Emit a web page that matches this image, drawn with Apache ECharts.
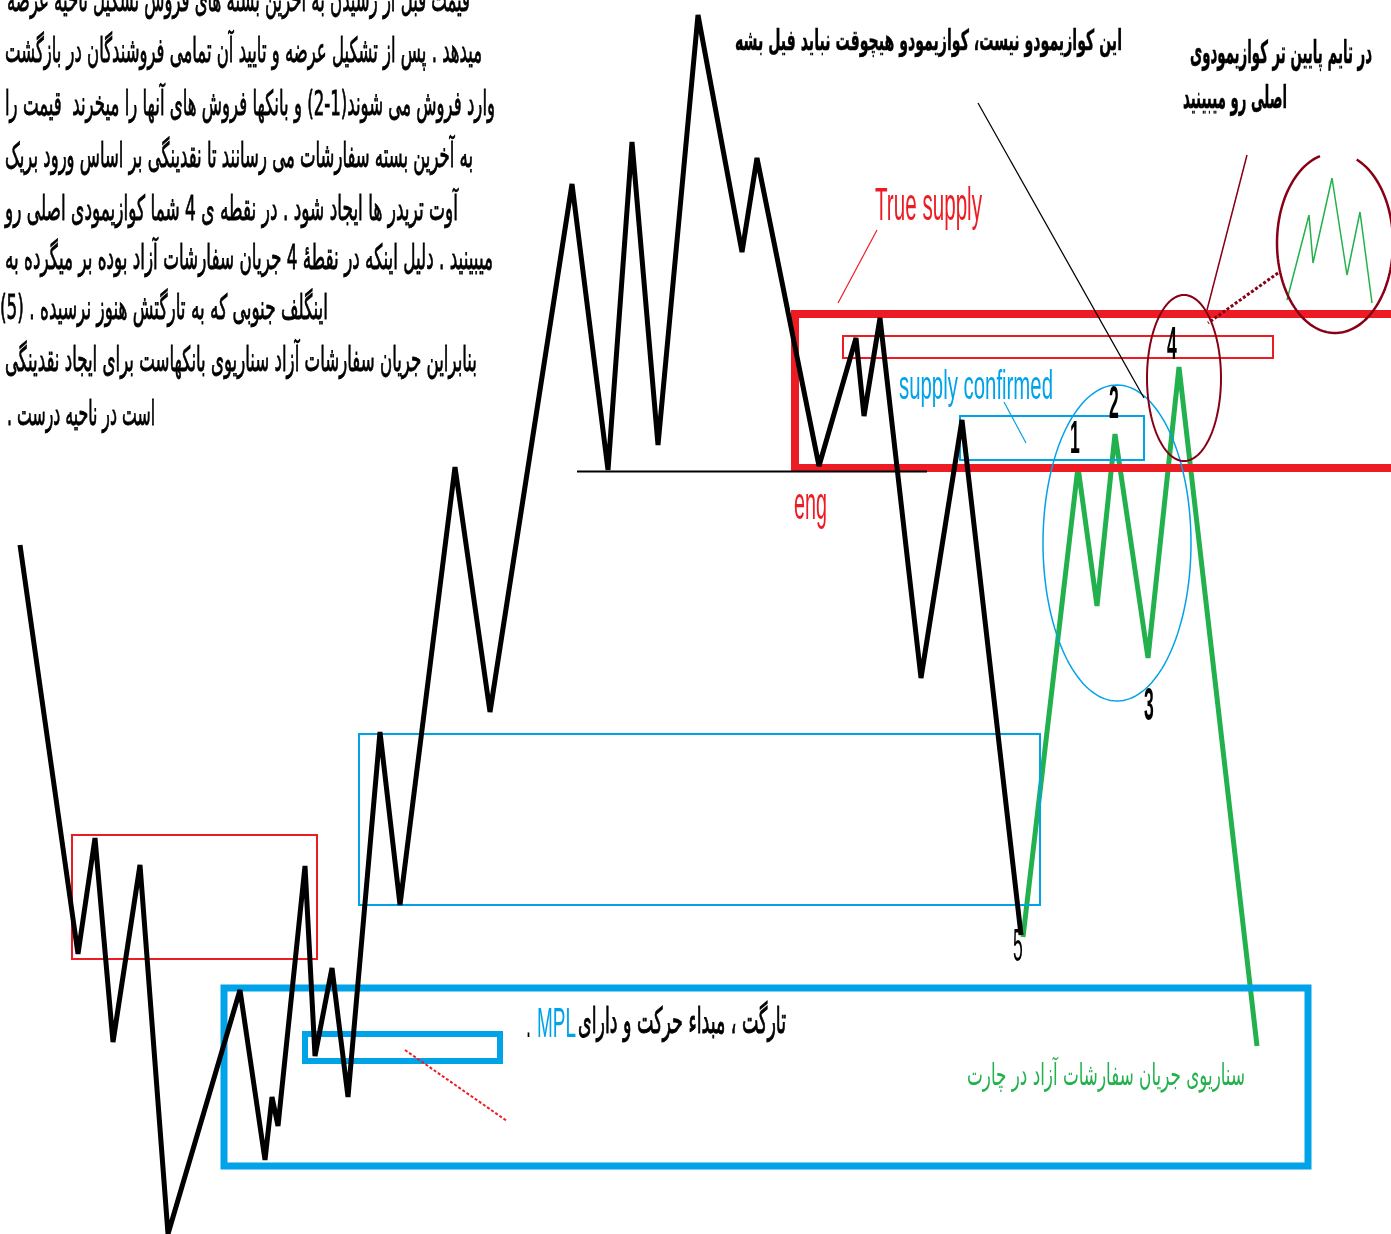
<!DOCTYPE html>
<html><head><meta charset="utf-8">
<script src="https://cdn.jsdelivr.net/npm/echarts@6/dist/echarts.min.js"></script>
<style>html,body{margin:0;padding:0;background:#fff}#c{width:1391px;height:1234px}</style>
</head><body><div id="c"></div><script>
// ---------- DATA (x = time units, y = price units, top = 0) ----------
const priceX = [20,78,95,113,140,168,240,265,272,278,305,315,332,348,380,400,455,490,572,608,632,658,698,742,757,819,856,864,880,921,962,1021];
const priceY = [545,954,838,1042,865,1234,990,1160,1097,1126,866,1056,968,1097,732,905,467,712,184,470,142,445,15,252,158,466,338,416,318,678,420,935];

const scenarioX = [1023,1078,1097,1115,1148,1179,1257];
const scenarioY = [937,467,606,434,658,367,1046];

const ltfX = [1287,1309,1313,1332,1347,1360,1372];
const ltfY = [300,215,263,178,275,212,303];

const zoneNames = ['leftSupply','midDemand','target','mpl','trueSupply','innerSupply','confirmed'];
const zoneX1 = [72,359,224,305,795,843,960];
const zoneX2 = [317,1040,1308,500,1410,1273,1144];
const zoneY1 = [835,734,988,1034,314,336,416];
const zoneY2 = [959,905,1166,1061,468,358,460];

const ringCx = [1117,1184,1335];
const ringCy = [543,378,243];
const ringRx = [74,37,58];
const ringRy = [158,83,90];

const segX1 = [577,978,877,1004,405,1247,1278];
const segY1 = [471.5,103,230,402,1050,155,273];
const segX2 = [927,1144,838,1026,507,1207,1208];
const segY2 = [471.5,398,303,443,1121,310,323];

const pointLabels = ['1','2','3','4','5'];
const pointLabelX = [1075,1114,1149,1172,1018];
const pointLabelY = [440,405,707,346,948];

const noteLines = [
  'قیمت قبل از رسیدن به آخرین بسته های فروش تشکیل ناحیه عرضه',
  'میدهد . پس از تشکیل عرضه و تایید آن تمامی فروشندگان در بازگشت',
  'وارد فروش می شوند(1-2) و بانکها فروش های آنها را میخرند  قیمت را',
  'به آخرین بسته سفارشات می رسانند تا نقدینگی بر اساس ورود بریک',
  'آوت تریدر ها ایجاد شود . در نقطه ی 4 شما کوازیمودی اصلی رو',
  'میبینید . دلیل اینکه در نقطهٔ 4 جریان سفارشات آزاد بوده بر میگرده به',
  'اینگلف جنوبی که به تارگتش هنوز نرسیده . (5)',
  'بنابراین جریان سفارشات آزاد سناریوی بانکهاست برای ایجاد نقدینگی',
  'است در ناحیه درست .'
];
const titleMain = 'این کوازیمودو نیست، کوازیمودو هیچوقت نباید فیل بشه';
const titleRight = ['در تایم پایین تر کوازیمودوی','اصلی رو میبینید'];
const targetText = 'تارگت ، مبداء حرکت و دارای';
const mplText = 'MPL';
const scenarioText = 'سناریوی جریان سفارشات آزاد در چارت';
const trueSupplyText = 'True supply';
const engText = 'eng';
const confirmedText = 'supply confirmed';

// ---------- STYLES / LAYOUT ----------
const RED='#ed1c24', BLUE='#00a2e8', GREEN='#22b14c', DRED='#880015', BLACK='#000';
const zoneStyle = {
  leftSupply:{color:RED,width:2}, midDemand:{color:BLUE,width:2}, target:{color:BLUE,width:7},
  mpl:{color:BLUE,width:6}, trueSupply:{color:RED,width:8}, innerSupply:{color:RED,width:2},
  confirmed:{color:BLUE,width:2}
};
const segStyle = [
  {color:BLACK,width:2},{color:BLACK,width:1.3},{color:RED,width:1.2},{color:BLUE,width:1.2},
  {color:RED,width:2,dash:[3,2]},{color:DRED,width:1.5},{color:DRED,width:3,dash:[3,2]}
];
const ringStyle = [{color:BLUE,width:1.5},{color:DRED,width:2},{color:DRED,width:2.5,gap:[-105,-68]}];

const rtl = s => '\u202B' + s + '\u202C';
const FA = '"DejaVu Sans"', LA = '"Liberation Sans"';
const noteRange = [[7,470],[5,482],[5,495],[5,473],[5,458],[5,493],[0,328],[5,477],[7,155]];
const noteMid = [2,53,106,158,211,260,310,362,416];
const texts = [];
noteLines.forEach((s,i)=>texts.push({text:rtl(s),x1:noteRange[i][0],x2:noteRange[i][1],y:noteMid[i],size:18,sy:1.9,family:FA,color:BLACK,sw:0.45}));
texts.push({text:rtl(titleMain),x1:735,x2:1122,y:43,size:18,sy:1.6,family:FA,weight:'bold',color:BLACK,sw:0.3});
texts.push({text:rtl(titleRight[0]),x1:1190,x2:1372,y:55,size:18,sy:1.75,family:FA,weight:'bold',color:BLACK,sw:0.3});
texts.push({text:rtl(titleRight[1]),x1:1183,x2:1287,y:100,size:18,sy:1.75,family:FA,weight:'bold',color:BLACK,sw:0.3});
texts.push({text:rtl(scenarioText),x1:967,x2:1245,y:1077,size:18,sy:1.7,family:FA,color:GREEN});
texts.push({text:rtl(targetText),x1:578,x2:786,y:1024,size:18,sy:2.0,family:FA,color:BLACK,sw:0.5});
texts.push({text:mplText,x1:537,x2:576,y:1025,size:20,sy:2.1,family:LA,color:BLUE});
texts.push({text:'.',x1:526,x2:531,y:1025,size:20,sy:2.1,family:LA,color:BLACK});
texts.push({text:trueSupplyText,x1:875,x2:982,y:207,size:22,sy:2.09,family:LA,color:RED});
texts.push({text:engText,x1:794,x2:827,y:506,size:22,sy:2.09,family:LA,color:RED});
texts.push({text:confirmedText,x1:899,x2:1053,y:388,size:20,sy:2.0,family:LA,color:BLUE});
pointLabels.forEach((s,i)=>texts.push({text:s,cx:pointLabelX[i],y:pointLabelY[i],size:22,sy:2.1,sx:0.8,family:LA,weight:i<4?'bold':'normal',color:BLACK}));

const mctx = document.createElement('canvas').getContext('2d');
function measure(t,font){ mctx.font = font; return mctx.measureText(t).width; }

const chart = echarts.init(document.getElementById('c'));
chart.setOption({
  animation:false,
  backgroundColor:'#fff',
  grid:{left:0,right:0,top:0,bottom:0},
  xAxis:{type:'value',min:0,max:1391,show:false},
  yAxis:{type:'value',min:0,max:1234,inverse:true,show:false},
  series:[
    {type:'line',name:'scenario',z:2,symbol:'none',clip:false,
     data:scenarioX.map((x,i)=>[x,scenarioY[i]]),
     lineStyle:{color:GREEN,width:5}},
    {type:'line',name:'ltf',z:2,symbol:'none',clip:false,
     data:ltfX.map((x,i)=>[x,ltfY[i]]),
     lineStyle:{color:GREEN,width:1.5}},
    {type:'custom',name:'zones',z:3,clip:false,
     data:zoneNames.map((n,i)=>[zoneX1[i],zoneY1[i],zoneX2[i],zoneY2[i]]),
     renderItem:(params,api)=>{
       const i=params.dataIndex, st=zoneStyle[zoneNames[i]];
       const p1=api.coord([api.value(0),api.value(1)]), p2=api.coord([api.value(2),api.value(3)]);
       return {type:'rect',shape:{x:p1[0],y:p1[1],width:p2[0]-p1[0],height:p2[1]-p1[1]},
               style:{fill:'none',stroke:st.color,lineWidth:st.width}};
     }},
    {type:'custom',name:'rings',z:3,clip:false,
     data:ringCx.map((c,i)=>[c,ringCy[i],ringRx[i],ringRy[i]]),
     renderItem:(params,api)=>{
       const i=params.dataIndex, st=ringStyle[i];
       const cx=api.value(0), cy=api.value(1), rx=api.value(2), ry=api.value(3);
       const a0 = st.gap ? st.gap[1] : 0, a1 = st.gap ? st.gap[0]+360 : 360;
       const pts=[];
       for(let k=0;k<=144;k++){ const a=(a0+(a1-a0)*k/144)*Math.PI/180; pts.push(api.coord([cx+rx*Math.cos(a), cy+ry*Math.sin(a)])); }
       return {type:'polyline',shape:{points:pts},style:{fill:'none',stroke:st.color,lineWidth:st.width}};
     }},
    {type:'custom',name:'pointers',z:4,clip:false,
     data:segX1.map((x,i)=>[x,segY1[i],segX2[i],segY2[i]]),
     renderItem:(params,api)=>{
       const st=segStyle[params.dataIndex];
       const p1=api.coord([api.value(0),api.value(1)]), p2=api.coord([api.value(2),api.value(3)]);
       return {type:'line',shape:{x1:p1[0],y1:p1[1],x2:p2[0],y2:p2[1]},
               style:{stroke:st.color,lineWidth:st.width,lineDash:st.dash||null}};
     }},
    {type:'line',name:'price',z:5,symbol:'none',clip:false,
     data:priceX.map((x,i)=>[x,priceY[i]]),
     lineStyle:{color:BLACK,width:5}},
    {type:'custom',name:'texts',z:6,clip:false,
     data:texts.map((t,i)=>[t.x1!=null?t.x1:t.cx,t.y]),
     renderItem:(params,api)=>{
       const t=texts[params.dataIndex];
       const font=(t.weight||'normal')+' '+t.size+'px '+t.family;
       let p, sx, align;
       if(t.cx!=null){ p=api.coord([t.cx,t.y]); sx=t.sx; align='center'; }
       else { p=api.coord([t.x1,t.y]); const p2=api.coord([t.x2,t.y]); sx=(p2[0]-p[0])/measure(t.text,font); align='left'; }
       const style={text:t.text,x:0,y:0,fill:t.color,font:font,align:align,verticalAlign:'middle'};
       if(t.sw){ style.stroke=t.color; style.lineWidth=t.sw; }
       return {type:'text',x:p[0],y:p[1],scaleX:sx,scaleY:t.sy,style:style};
     }}
  ]
});
</script></body></html>
